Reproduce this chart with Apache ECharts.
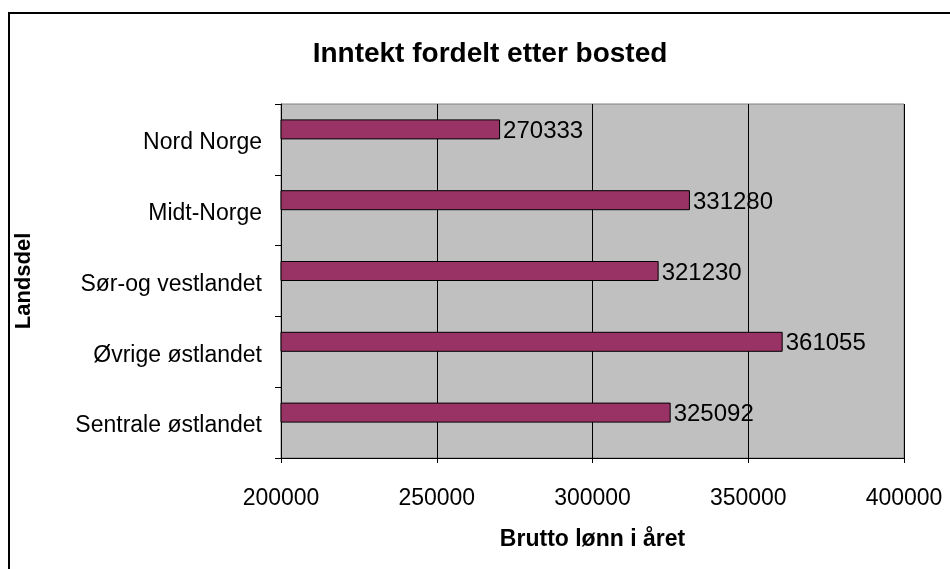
<!DOCTYPE html>
<html><head><meta charset="utf-8">
<script src="https://cdn.jsdelivr.net/npm/echarts@6/dist/echarts.min.js"></script>
<style>html,body{margin:0;padding:0;background:#fff}#c{width:950px;height:569px}</style>
</head><body><div id="c"></div>
<script>
const categories = ['Sentrale østlandet', 'Øvrige østlandet', 'Sør-og vestlandet', 'Midt-Norge', 'Nord Norge'];
const values = [325092, 361055, 321230, 331280, 270333];
const xTicks = [200000, 250000, 300000, 350000, 400000];

const chart = echarts.init(document.getElementById('c'));
const F = 'Liberation Sans, Arial, sans-serif';
chart.setOption({
  animation: false,
  backgroundColor: '#ffffff',
  title: { text: 'Inntekt fordelt etter bosted', left: 485, top: 35, textAlign: 'center',
    textStyle: { fontFamily: F, fontSize: 28, fontWeight: 'bold', color: '#000' } },
  graphic: [
    { type: 'rect', shape: { x: 9, y: 13, width: 1000, height: 1000 }, style: { fill: null, stroke: '#000', lineWidth: 2 }, silent: true, z: 0 }
  ],
  grid: { left: 281, right: 46, top: 104, bottom: 111, show: true, backgroundColor: '#c0c0c0', borderColor: '#808080', borderWidth: 1 },
  xAxis: {
    type: 'value', min: xTicks[0], max: xTicks[xTicks.length - 1], interval: 50000,
    name: 'Brutto lønn i året', nameLocation: 'middle', nameGap: 70,
    nameTextStyle: { fontFamily: F, fontSize: 23, fontWeight: 'bold', color: '#000' },
    axisLine: { show: true, lineStyle: { color: '#000', width: 1 } },
    axisTick: { show: true, inside: false, length: 5, lineStyle: { color: '#000' } },
    axisLabel: { fontFamily: F, fontSize: 23, color: '#000', margin: 29, formatter: v => String(v) },
    splitLine: { show: true, lineStyle: { color: '#000', width: 1 } }
  },
  yAxis: {
    type: 'category', data: categories,
    name: 'Landsdel', nameLocation: 'middle', nameGap: 246, nameRotate: 90,
    nameTextStyle: { fontFamily: F, fontSize: 22, fontWeight: 'bold', color: '#000' },
    axisLine: { show: true, lineStyle: { color: '#000', width: 1 } },
    axisTick: { show: true, inside: false, length: 6, alignWithLabel: false, lineStyle: { color: '#000' } },
    axisLabel: { fontFamily: F, fontSize: 23, color: '#000', margin: 19,
      formatter: v => '{a|' + v + '}',
      rich: { a: { fontFamily: F, fontSize: 23, color: '#000', padding: [7, 0, 0, 0] } } },
    splitLine: { show: false }
  },
  series: [
    { type: 'bar', data: values, barWidth: 20, barGap: '0%',
      itemStyle: { color: '#993366', borderColor: '#000', borderWidth: 1 },
      label: { show: true, position: 'right', distance: 3, offset: [0, 2], fontFamily: F, fontSize: 24, color: '#000' } },
    { type: 'bar', data: values.map(() => '-'), barWidth: 20, barGap: '0%' }
  ]
});
</script></body></html>
